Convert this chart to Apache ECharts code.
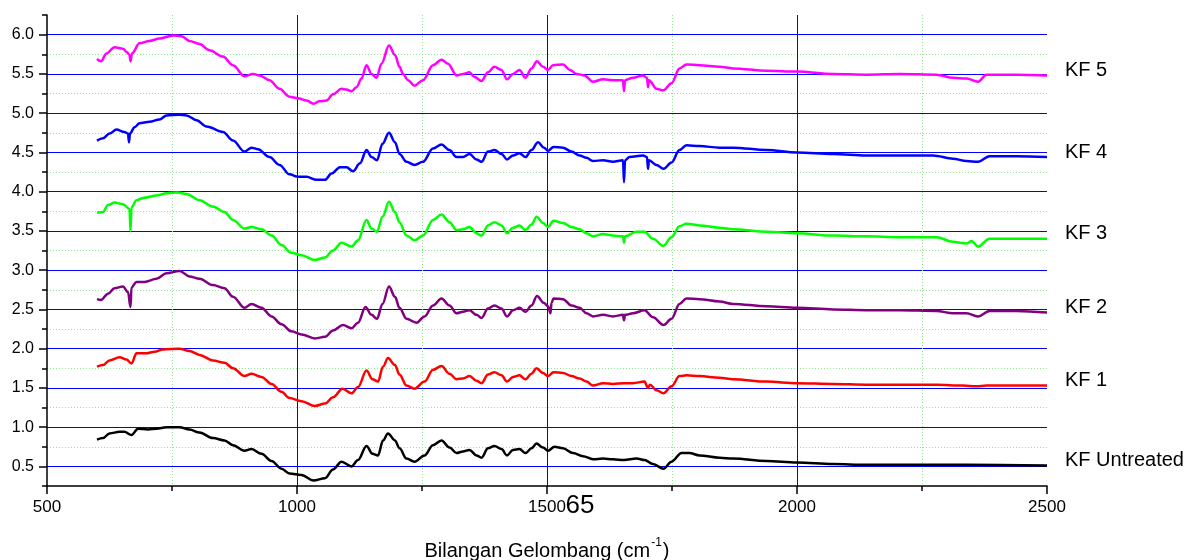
<!DOCTYPE html>
<html>
<head>
<meta charset="utf-8">
<script src="https://cdn.jsdelivr.net/npm/echarts@6/dist/echarts.min.js"></script>
<style>
html,body{margin:0;padding:0;background:#fff;}
#chart{width:1192px;height:560px;}
</style>
</head>
<body>
<div id="chart"></div>
<script>
// ---- data (wavenumber cm^-1, transmittance offset) ----
const seriesNames = ['KF 5', 'KF 4', 'KF 3', 'KF 2', 'KF 1', 'KF Untreated'];
const seriesColors = ['#ff00ff', '#0000ff', '#00ff00', '#800080', '#ff0000', '#000000'];

const kf5 = [[600,5.69],[608,5.66],[619,5.76],[635,5.84],[652,5.82],[659,5.78],[665,5.74],[667,5.66],[670,5.76],[685,5.89],[705,5.92],[725,5.95],[752,5.99],[769,5.98],[785,5.92],[805,5.88],[825,5.80],[852,5.72],[872,5.61],[895,5.47],[912,5.50],[925,5.48],[945,5.42],[965,5.31],[985,5.21],[1002,5.19],[1019,5.16],[1033,5.12],[1045,5.15],[1059,5.16],[1072,5.24],[1089,5.31],[1099,5.30],[1109,5.28],[1119,5.33],[1129,5.44],[1139,5.61],[1149,5.50],[1159,5.45],[1169,5.63],[1184,5.86],[1196,5.74],[1205,5.59],[1212,5.50],[1222,5.42],[1235,5.35],[1252,5.42],[1272,5.61],[1289,5.68],[1302,5.63],[1319,5.48],[1332,5.50],[1345,5.52],[1355,5.46],[1369,5.41],[1382,5.52],[1395,5.59],[1409,5.55],[1420,5.43],[1432,5.50],[1445,5.55],[1457,5.45],[1469,5.57],[1480,5.66],[1492,5.59],[1502,5.55],[1512,5.61],[1532,5.62],[1546,5.55],[1559,5.50],[1575,5.48],[1592,5.40],[1612,5.43],[1632,5.42],[1652,5.42],[1654,5.28],[1656,5.42],[1672,5.45],[1692,5.48],[1700,5.45],[1702,5.33],[1704,5.42],[1719,5.31],[1733,5.29],[1749,5.38],[1765,5.57],[1779,5.62],[1805,5.61],[1845,5.59],[1872,5.57],[1939,5.54],[2000,5.53],[2072,5.50],[2139,5.49],[2205,5.50],[2279,5.49],[2312,5.45],[2339,5.44],[2362,5.40],[2379,5.49],[2439,5.49],[2500,5.48]];

const kf4 = [[600,4.65],[612,4.68],[625,4.74],[639,4.79],[655,4.76],[662,4.74],[664,4.63],[666,4.74],[675,4.82],[685,4.87],[705,4.89],[725,4.92],[739,4.97],[765,4.98],[779,4.97],[799,4.91],[819,4.83],[852,4.76],[872,4.65],[895,4.51],[909,4.56],[922,4.54],[945,4.44],[965,4.34],[985,4.22],[1002,4.19],[1019,4.19],[1039,4.15],[1056,4.15],[1069,4.23],[1086,4.31],[1099,4.31],[1112,4.26],[1126,4.36],[1139,4.53],[1149,4.44],[1160,4.40],[1171,4.61],[1184,4.75],[1196,4.63],[1205,4.48],[1219,4.38],[1235,4.34],[1252,4.38],[1272,4.55],[1289,4.60],[1305,4.53],[1319,4.44],[1332,4.44],[1345,4.48],[1359,4.41],[1369,4.38],[1382,4.51],[1395,4.53],[1409,4.48],[1420,4.41],[1432,4.46],[1445,4.49],[1457,4.44],[1469,4.53],[1482,4.63],[1494,4.56],[1502,4.52],[1513,4.57],[1532,4.56],[1549,4.51],[1565,4.46],[1579,4.43],[1592,4.39],[1612,4.40],[1632,4.38],[1652,4.40],[1654,4.12],[1656,4.40],[1665,4.44],[1692,4.46],[1700,4.44],[1702,4.29],[1704,4.40],[1719,4.34],[1733,4.29],[1749,4.37],[1765,4.53],[1779,4.59],[1805,4.58],[1845,4.56],[1872,4.56],[1939,4.53],[2000,4.50],[2072,4.48],[2139,4.46],[2205,4.46],[2272,4.46],[2312,4.42],[2339,4.39],[2362,4.38],[2385,4.45],[2439,4.45],[2500,4.44]];

const kf3 = [[600,3.73],[612,3.74],[622,3.83],[635,3.86],[652,3.84],[665,3.78],[667,3.50],[669,3.80],[679,3.89],[692,3.92],[719,3.95],[739,3.98],[762,3.99],[779,3.97],[805,3.89],[832,3.81],[855,3.74],[872,3.64],[895,3.53],[909,3.55],[929,3.52],[949,3.44],[969,3.32],[989,3.22],[1009,3.19],[1036,3.13],[1056,3.16],[1072,3.25],[1089,3.35],[1109,3.30],[1122,3.38],[1139,3.64],[1149,3.53],[1160,3.49],[1171,3.68],[1184,3.87],[1196,3.74],[1205,3.61],[1219,3.44],[1235,3.38],[1252,3.44],[1272,3.64],[1289,3.71],[1305,3.61],[1319,3.51],[1332,3.52],[1345,3.55],[1359,3.47],[1369,3.44],[1382,3.57],[1395,3.61],[1409,3.57],[1420,3.47],[1432,3.54],[1445,3.57],[1457,3.51],[1469,3.58],[1479,3.68],[1492,3.60],[1502,3.55],[1513,3.63],[1532,3.60],[1549,3.55],[1565,3.52],[1579,3.47],[1592,3.43],[1612,3.46],[1632,3.44],[1652,3.43],[1654,3.35],[1656,3.43],[1679,3.49],[1695,3.49],[1712,3.40],[1733,3.31],[1749,3.42],[1765,3.56],[1779,3.59],[1805,3.57],[1845,3.54],[1872,3.52],[1939,3.49],[2000,3.47],[2072,3.44],[2139,3.43],[2205,3.42],[2279,3.42],[2312,3.36],[2339,3.34],[2349,3.37],[2362,3.30],[2385,3.40],[2439,3.40],[2500,3.40]];

const kf2 = [[600,2.63],[608,2.62],[622,2.70],[635,2.77],[652,2.79],[662,2.72],[667,2.53],[669,2.78],[679,2.85],[695,2.85],[719,2.89],[739,2.96],[765,2.99],[785,2.92],[805,2.89],[832,2.81],[855,2.77],[872,2.66],[895,2.52],[909,2.57],[929,2.52],[949,2.41],[969,2.31],[989,2.22],[1009,2.18],[1036,2.13],[1056,2.15],[1072,2.23],[1092,2.30],[1109,2.26],[1122,2.33],[1137,2.53],[1149,2.43],[1160,2.38],[1171,2.57],[1184,2.79],[1196,2.66],[1205,2.52],[1219,2.38],[1239,2.33],[1255,2.41],[1272,2.55],[1289,2.64],[1305,2.55],[1319,2.45],[1332,2.47],[1345,2.49],[1359,2.43],[1369,2.39],[1382,2.51],[1395,2.55],[1409,2.51],[1420,2.41],[1432,2.49],[1445,2.52],[1457,2.47],[1469,2.55],[1480,2.67],[1494,2.58],[1502,2.54],[1507,2.45],[1509,2.58],[1513,2.64],[1532,2.63],[1549,2.55],[1565,2.52],[1579,2.45],[1592,2.41],[1612,2.43],[1632,2.41],[1652,2.43],[1654,2.36],[1656,2.43],[1672,2.45],[1695,2.49],[1712,2.40],[1733,2.30],[1749,2.38],[1765,2.57],[1779,2.64],[1805,2.63],[1845,2.60],[1872,2.57],[1939,2.54],[2000,2.52],[2072,2.50],[2139,2.49],[2205,2.49],[2279,2.48],[2312,2.45],[2339,2.45],[2362,2.41],[2385,2.48],[2439,2.48],[2500,2.46]];

const kf1 = [[600,1.77],[612,1.79],[625,1.85],[645,1.89],[659,1.86],[669,1.81],[679,1.94],[699,1.94],[715,1.96],[732,1.99],[765,2.00],[785,1.97],[805,1.92],[832,1.85],[855,1.82],[872,1.75],[895,1.65],[909,1.68],[929,1.64],[949,1.55],[969,1.45],[985,1.37],[1009,1.33],[1036,1.27],[1056,1.30],[1072,1.38],[1091,1.49],[1109,1.43],[1122,1.51],[1139,1.72],[1151,1.61],[1162,1.58],[1172,1.77],[1182,1.88],[1196,1.79],[1205,1.67],[1219,1.53],[1235,1.49],[1255,1.58],[1272,1.73],[1289,1.78],[1305,1.68],[1319,1.61],[1332,1.62],[1345,1.65],[1359,1.59],[1369,1.56],[1382,1.67],[1395,1.70],[1409,1.66],[1420,1.58],[1432,1.64],[1445,1.66],[1457,1.61],[1469,1.68],[1479,1.75],[1492,1.69],[1502,1.65],[1513,1.70],[1532,1.69],[1549,1.65],[1565,1.62],[1579,1.58],[1592,1.53],[1612,1.56],[1632,1.55],[1654,1.56],[1672,1.56],[1695,1.58],[1702,1.50],[1706,1.54],[1719,1.47],[1733,1.43],[1749,1.52],[1765,1.65],[1779,1.66],[1805,1.65],[1845,1.63],[1872,1.61],[1939,1.58],[2000,1.56],[2072,1.55],[2139,1.54],[2205,1.54],[2279,1.54],[2332,1.53],[2359,1.52],[2379,1.53],[2500,1.53]];

const kfUntreated = [[600,0.84],[612,0.86],[625,0.92],[645,0.94],[655,0.94],[669,0.90],[682,0.98],[702,0.97],[719,0.98],[739,1.00],[765,1.00],[785,0.97],[805,0.93],[832,0.86],[855,0.83],[872,0.77],[895,0.70],[909,0.72],[929,0.66],[949,0.57],[969,0.47],[985,0.41],[1009,0.39],[1033,0.32],[1056,0.35],[1072,0.46],[1089,0.56],[1109,0.50],[1122,0.58],[1139,0.76],[1151,0.66],[1162,0.64],[1172,0.83],[1182,0.92],[1196,0.83],[1205,0.73],[1219,0.60],[1235,0.56],[1255,0.64],[1272,0.77],[1289,0.83],[1305,0.74],[1319,0.67],[1332,0.69],[1345,0.71],[1359,0.64],[1369,0.61],[1382,0.73],[1395,0.76],[1409,0.72],[1420,0.64],[1432,0.71],[1445,0.72],[1457,0.67],[1469,0.73],[1479,0.79],[1492,0.74],[1502,0.70],[1515,0.75],[1532,0.73],[1552,0.67],[1572,0.63],[1592,0.59],[1612,0.60],[1632,0.59],[1654,0.58],[1679,0.60],[1695,0.58],[1712,0.53],[1733,0.47],[1749,0.56],[1769,0.67],[1785,0.67],[1805,0.64],[1845,0.61],[1872,0.60],[1939,0.57],[2000,0.55],[2072,0.53],[2139,0.52],[2205,0.52],[2272,0.52],[2339,0.52],[2500,0.51]];

const xTickLabels = [500, 1000, 1500, 2000, 2500];
const yMajorTicks = [0.5, 1.0, 1.5, 2.0, 2.5, 3.0, 3.5, 4.0, 4.5, 5.0, 5.5, 6.0];
const yMinorTicks = [0.25, 0.75, 1.25, 1.75, 2.25, 2.75, 3.25, 3.75, 4.25, 4.75, 5.25, 5.75, 6.25];
const xTitle = 'Bilangan Gelombang (cm';
const xTitleSup = '-1';
const pageNumber = '65';

const seriesData = [kf5, kf4, kf3, kf2, kf1, kfUntreated];

// ---- chart ----
const FONT = "'Liberation Sans', Arial, sans-serif";
const chart = echarts.init(document.getElementById('chart'), null, {renderer: 'canvas'});

const greenGrid = {color: '#8fe88f', width: 1, type: [1, 2]};

const option = {
  animation: false,
  backgroundColor: '#ffffff',
  textStyle: {fontFamily: FONT, color: '#000'},
  grid: {left: 47, right: 145, top: 15, bottom: 74, containLabel: false, outerBoundsMode: 'none'},
  xAxis: {
    type: 'value',
    min: xTickLabels[0],
    max: xTickLabels[xTickLabels.length - 1],
    interval: 500,
    axisLine: {show: true, onZero: false, lineStyle: {color: '#000', width: 1.5}},
    axisTick: {show: true, inside: false, length: 8, lineStyle: {color: '#000', width: 1.5}},
    minorTick: {show: true, splitNumber: 2, length: 5, lineStyle: {color: '#000', width: 1.5}},
    axisLabel: {show: true, margin: 13, fontSize: 17, color: '#000', fontFamily: FONT,
      formatter: v => String(Math.round(v))},
    splitLine: {show: true, showMinLine: false, showMaxLine: false, lineStyle: {color: '#0000ff', width: 1}},
    minorSplitLine: {show: true, lineStyle: greenGrid},
    name: '{a|' + xTitle + '}{s|' + xTitleSup + '}{a|)}',
    nameLocation: 'middle',
    nameGap: 51,
    nameTextStyle: {
      rich: {
        a: {fontSize: 20, fontFamily: FONT, color: '#000', lineHeight: 24, verticalAlign: 'bottom'},
        s: {fontSize: 12, fontFamily: FONT, color: '#000', lineHeight: 24, verticalAlign: 'top', padding: [0, 1, 0, 1]}
      }
    }
  },
  yAxis: [
    {
      type: 'value',
      min: 0.25, max: 6.25, interval: 0.25,
      position: 'left',
      axisLine: {show: true, onZero: false, lineStyle: {color: '#000', width: 1.5}},
      axisTick: {show: true, inside: false, length: 8, customValues: yMajorTicks, lineStyle: {color: '#000', width: 1.5}},
      axisLabel: {show: true, margin: 13, fontSize: 16, color: '#000', fontFamily: FONT, customValues: yMajorTicks,
        formatter: v => Number(v).toFixed(1)},
      splitLine: {show: true, lineStyle: {color: '#0000ff', width: 1}}
    },
    {
      type: 'value',
      min: 0.25, max: 6.25, interval: 0.25,
      position: 'left',
      offset: 0,
      axisLine: {show: false},
      axisTick: {show: true, inside: false, length: 5, customValues: yMinorTicks, lineStyle: {color: '#000', width: 1.5}},
      axisLabel: {show: false},
      splitLine: {show: true, showMinLine: false, showMaxLine: false, lineStyle: greenGrid}
    }
  ],
  graphic: [{
    type: 'text', x: 580, y: 506, z: 100,
    style: {text: pageNumber, fill: '#000', fontSize: 26, fontFamily: FONT, align: 'center', verticalAlign: 'middle'}
  }],
  series: seriesNames.map((name, i) => ({
    name: name,
    type: 'line',
    data: seriesData[i],
    showSymbol: false,
    symbol: 'none',
    smooth: 0.35,
    smoothMonotone: 'x',
    clip: false,
    lineStyle: {color: seriesColors[i], width: 2.5},
    itemStyle: {color: seriesColors[i]},
    z: 10,
    endLabel: {
      show: true,
      formatter: '{a}',
      distance: 18,
      offset: [0, -5],
      color: '#000',
      fontSize: 20,
      fontFamily: FONT
    }
  }))
};
chart.setOption(option);
</script>
</body>
</html>
